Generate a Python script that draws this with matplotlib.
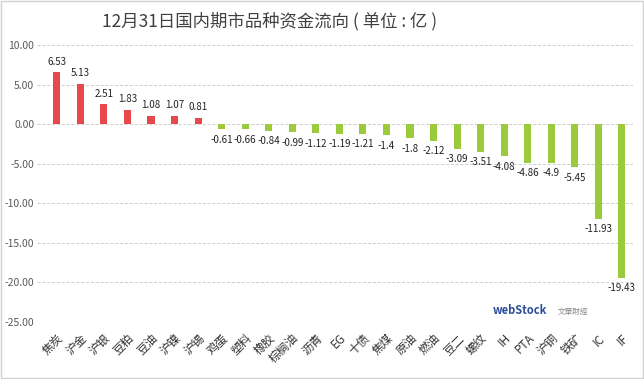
import matplotlib.pyplot as plt
import numpy as np

plt.rcParams['font.family'] = ['Noto Sans CJK SC', 'DejaVu Sans']

names = ['焦炭', '沪金', '沪银', '豆粕', '豆油', '沪镍', '沪锡', '鸡蛋', '塑料', '橡胶',
         '棕榈油', '沥青', 'EG', '十债', '焦煤', '原油', '燃油', '豆二', '螺纹', 'IH',
         'PTA', '沪铜', '铁矿', 'IC', 'IF']
flows = [6.53, 5.13, 2.51, 1.83, 1.08, 1.07, 0.81, -0.61, -0.66, -0.84,
         -0.99, -1.12, -1.19, -1.21, -1.4, -1.8, -2.12, -3.09, -3.51, -4.08,
         -4.86, -4.9, -5.45, -11.93, -19.43]
yticks = [10, 5, 0, -5, -10, -15, -20, -25]

W, H = 644, 379
fig = plt.figure(figsize=(W / 100, H / 100), dpi=100)
ax = fig.add_axes([37 / W, 1 - 322 / H, (633 - 37) / W, (322 - 45) / H])

x = np.arange(len(names))
cols = ['#E8474C' if v > 0 else '#9BCB3C' for v in flows]
ax.bar(x, flows, width=0.3, color=cols, zorder=3)

for i, v in enumerate(flows):
    lab = ('%.2f' % v).rstrip('0').rstrip('.')
    if v > 0:
        ax.text(i, v + 0.7, lab, ha='center', va='bottom', fontsize=7, color='#222222')
    else:
        ax.text(i, v - 0.7, lab, ha='center', va='top', fontsize=7, color='#222222')

ax.set_xlim(-0.84, 24.47)
ax.set_ylim(-25, 10)
ax.set_yticks(yticks)
ax.set_yticklabels(['%.2f' % t for t in yticks], fontsize=7.5, color='#595959')
ax.set_xticks(x)
ax.set_xticklabels(names, rotation=45, ha='right', rotation_mode='anchor',
                   fontsize=8.5, color='#333333')
ax.tick_params(length=0, pad=2)
ax.tick_params(axis='x', pad=7)
ax.grid(axis='y', color='#CCCCCC', linestyle=(0, (3, 2)), linewidth=0.7, zorder=0)
for s in ax.spines.values():
    s.set_visible(False)

fig.text(270 / W, 1 - 21 / H, '12月31日国内期市品种资金流向 ( 单位 : 亿 )', ha='center', va='center',
         fontsize=12.5, color='#404040')

# watermark
fig.text(493 / W, 1 - 311 / H, 'webStock', fontsize=8, color='#2B4E9A', fontweight='bold',
         va='center', ha='left')
fig.text(558 / W, 1 - 312 / H, '文華財經', fontsize=5.5, color='#888888', va='center', ha='left')

fig.patches.append(plt.Rectangle((0.002, 0.003), 0.996, 0.994, transform=fig.transFigure,
                                 fill=False, edgecolor='#D0D0D0', linewidth=1))

fig.savefig('out.png', dpi=100)
